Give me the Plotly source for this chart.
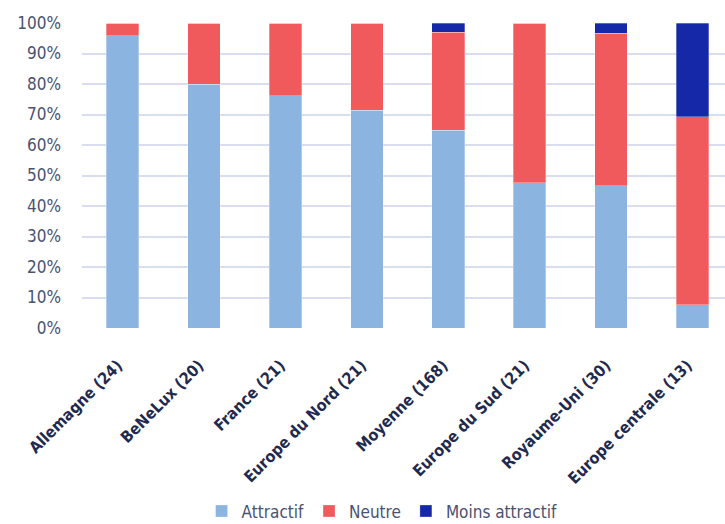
import plotly.graph_objects as go

categories = ["Allemagne (24)", "BeNeLux (20)", "France (21)", "Europe du Nord (21)",
              "Moyenne (168)", "Europe du Sud (21)", "Royaume-Uni (30)", "Europe centrale (13)"]
attractif = [95.8, 80.0, 76.2, 71.4, 64.9, 47.6, 46.7, 7.7]
neutre = [4.2, 20.0, 23.8, 28.6, 32.1, 52.4, 50.0, 61.5]
moins_attractif = [0.0, 0.0, 0.0, 0.0, 3.0, 0.0, 3.3, 30.8]
y_ticks = [0, 10, 20, 30, 40, 50, 60, 70, 80, 90, 100]
y_tick_labels = [f"{v}%" for v in y_ticks]

font_family = "DejaVu Sans Condensed, Liberation Sans Narrow, Roboto, Arial"

fig = go.Figure()
for name, vals, color in [("Attractif", attractif, "#8cb4e0"),
                          ("Neutre", neutre, "#f05a5c"),
                          ("Moins attractif", moins_attractif, "#1428a8")]:
    fig.add_trace(go.Bar(x=categories, y=vals, name=name,
                         marker=dict(color=color, line=dict(color="rgba(255,255,255,0.6)", width=0.5)),
                         width=0.4))

fig.update_layout(
    barmode="stack",
    width=725, height=524,
    margin=dict(l=82, r=0, t=23, b=196, autoexpand=False),
    plot_bgcolor="white", paper_bgcolor="white",
    font=dict(family=font_family),
    legend=dict(orientation="h", x=0.527, xanchor="center", xref="container",
                y=0.024, yanchor="middle", yref="container",
                font=dict(size=17, color="#4a5270"), traceorder="normal",
                itemwidth=30, tracegroupgap=0),
    xaxis=dict(range=[-0.5, 7.4], tickangle=-45, showgrid=False, showline=False,
               tickfont=dict(size=16, color="#1f2a4f"), automargin=False,
               ticks="", ticklabelstandoff=24, ticklabelshift=-5),
    yaxis=dict(range=[0, 100], tickvals=y_ticks, ticktext=y_tick_labels,
               showgrid=True, gridcolor="#d8def0", gridwidth=2, zeroline=False,
               automargin=False,
               tickfont=dict(size=17, color="#4a5270"), ticks="", ticklabelstandoff=20),
)
fig.update_xaxes(tickprefix="<b>", ticksuffix="</b>")
fig.write_html("out.html")
